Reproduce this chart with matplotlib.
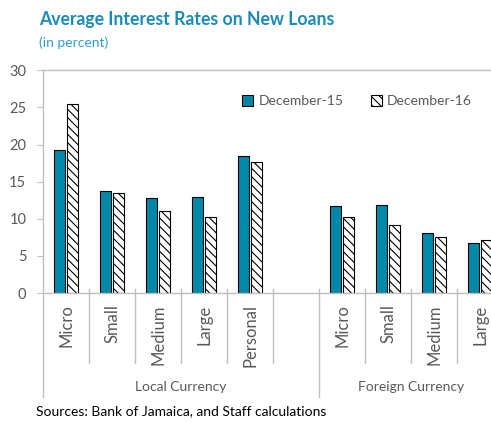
import numpy as np
import matplotlib
matplotlib.use("Agg")
import matplotlib.pyplot as plt
from matplotlib.patches import Patch

plt.rcParams['font.family'] = ['Lato', 'DejaVu Sans']
plt.rcParams['hatch.linewidth'] = 0.8

# data
local_cats = ['Micro', 'Small', 'Medium', 'Large', 'Personal']
foreign_cats = ['Micro', 'Small', 'Medium', 'Large']
local_dec15 = [19.2, 13.7, 12.8, 13.0, 18.5]
local_dec16 = [25.4, 13.5, 11.1, 10.2, 17.6]
foreign_dec15 = [11.7, 11.8, 8.1, 6.8]
foreign_dec16 = [10.2, 9.2, 7.6, 7.1]
groups = ['Local Currency', 'Foreign Currency']
series = ['December-15', 'December-16']
yticks = [0, 5, 10, 15, 20, 25, 30]

teal = '#0088a9'
grey = '#595959'
line_grey = '#bfbfbf'

# one empty slot between the two groups
cats = local_cats + [''] + foreign_cats
dec15 = local_dec15 + [np.nan] + foreign_dec15
dec16 = local_dec16 + [np.nan] + foreign_dec16
x = np.arange(len(cats))

fig = plt.figure(figsize=(4.91, 4.23), dpi=100)
ax = fig.add_axes([0.0876, 0.307, 1.0 - 0.0876, 0.527])

w = 0.24
off = 0.14
ax.bar(x - off, dec15, w, color=teal, edgecolor='black', linewidth=0.8)
ax.bar(x + off, dec16, w, color='white', edgecolor='black', linewidth=0.8,
       hatch='\\\\\\\\')

ax.set_ylim(0, 30)
ax.set_xlim(-0.5, -0.5 + (491 - 43) / 46)
ax.set_yticks(yticks)
ax.tick_params(axis='y', colors=line_grey, labelcolor=grey, labelsize=10.5,
               length=4, direction='out', pad=8)
ax.set_xticks([])

for s in ['left', 'top', 'bottom']:
    ax.spines[s].set_color(line_grey)
    ax.spines[s].set_linewidth(1)
ax.spines['right'].set_visible(False)

# category labels and dividers
tr = ax.get_xaxis_transform()
for xi, c in zip(x, cats):
    ax.text(xi, -0.05, c, rotation=90, ha='center', va='top', color=grey,
            fontsize=12, transform=tr)
for b in np.arange(0.5, len(cats), 1.0):
    if b == 5.5:
        continue
    ax.plot([b, b], [0.02, -0.314], color=line_grey, lw=1, transform=tr,
            clip_on=False)
for b in [-0.5, 5.5]:
    ax.plot([b, b], [0.02 if b > 0 else 0, -0.466], color=line_grey, lw=1,
            transform=tr, clip_on=False)

# group labels
ax.text(np.mean([-0.5, 5.5]), -0.42, groups[0], ha='center', va='center',
        color=grey, fontsize=10, transform=tr)
ax.text(np.mean([5.5, 9.5]), -0.42, groups[1], ha='center', va='center',
        color=grey, fontsize=10, transform=tr)

handles = [Patch(facecolor=teal, edgecolor='black', linewidth=0.8),
           Patch(facecolor='white', edgecolor='black', linewidth=0.8,
                 hatch='\\\\\\\\')]
leg = fig.legend(handles, series, loc='center left',
                 bbox_to_anchor=(0.468, 0.761), ncol=2, frameon=False,
                 fontsize=10, handlelength=0.8, handleheight=0.8,
                 handletextpad=0.35, columnspacing=2.0, labelcolor=grey)

fig.text(0.08, 0.955, 'Average Interest Rates on New Loans', fontsize=12.7,
         fontweight='bold', color='#1a8bb8', va='center', ha='left')
fig.text(0.08, 0.898, '(in percent)', fontsize=10, color='#2f9bd0',
         va='center', ha='left')
fig.text(0.073, 0.028, 'Sources: Bank of Jamaica, and Staff calculations',
         fontsize=10, color='black', va='center', ha='left')

fig.savefig('out.png', dpi=100)
